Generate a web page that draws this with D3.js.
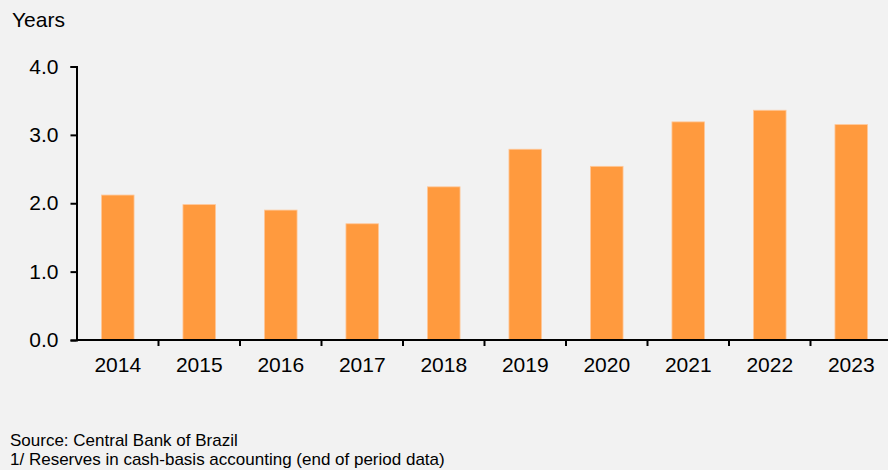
<!DOCTYPE html>
<html>
<head>
<meta charset="utf-8">
<script src="https://cdn.jsdelivr.net/npm/d3@7"></script>
<style>
	body { margin: 0; background: #f2f2f2; }
	svg text { font-family: "Liberation Sans", Arial, sans-serif; fill: #000; }
</style>
</head>
<body>
<div id="chart"></div>
<script>

var years = ["2014", "2015", "2016", "2017", "2018", "2019", "2020", "2021", "2022", "2023"]

var values = [2.12, 1.98, 1.90, 1.70, 2.24, 2.79, 2.54, 3.19, 3.36, 3.15]

var yTicks = [0, 1, 2, 3, 4]

var width = 888, height = 470

var svg = d3.select("#chart").append("svg")
	.attr("width", width)
	.attr("height", height)

svg.append("rect")
	.attr("width", width)
	.attr("height", height)
	.attr("fill", "#f2f2f2")

var x = d3.scaleBand()
	.domain(years)
	.range([77, 892])
	.padding(0)

var y = d3.scaleLinear()
	.domain([0, 4])
	.range([340, 66.5])

var barWidth = x.bandwidth() * 0.4

// bars
svg.append("g").selectAll("rect")
	.data(values)
	.enter()
	.append("rect")
	.attr("x", (d, i) => x(years[i]) + (x.bandwidth() - barWidth) / 2)
	.attr("y", d => y(d))
	.attr("width", barWidth)
	.attr("height", d => y(0) - y(d))
	.attr("fill", "#ff9a3e")
	.attr("stroke", "#ffc89a")
	.attr("stroke-width", 0.8)

// y axis
var yAxis = svg.append("g")
	.attr("transform", "translate(76.5,0)")
	.call(d3.axisLeft(y).tickValues(yTicks).tickFormat(d3.format(".1f")).tickSize(6).tickPadding(12))

yAxis.select(".domain").attr("stroke", "#000").attr("stroke-width", 2)
yAxis.selectAll(".tick line").attr("stroke", "#000").attr("stroke-width", 2)
yAxis.selectAll("text").attr("font-size", 21).attr("font-family", "Liberation Sans, Arial, sans-serif").attr("fill", "#000")

// x axis
var xAxis = svg.append("g")
	.attr("transform", "translate(0,340)")
	.call(d3.axisBottom(x).tickSize(0).tickPadding(17))

xAxis.select(".domain").remove()
xAxis.selectAll("text").attr("font-size", 21).attr("font-family", "Liberation Sans, Arial, sans-serif").attr("fill", "#000")

svg.append("line")
	.attr("x1", 76).attr("x2", width)
	.attr("y1", 340).attr("y2", 340)
	.attr("stroke", "#000")
	.attr("stroke-width", 2)

// ticks between categories
svg.append("g").selectAll("line")
	.data(years.slice(1))
	.enter()
	.append("line")
	.attr("x1", d => x(d)).attr("x2", d => x(d))
	.attr("y1", 340).attr("y2", 346)
	.attr("stroke", "#000")
	.attr("stroke-width", 2)

// labels
svg.append("text")
	.attr("x", 12)
	.attr("y", 26.5)
	.attr("font-size", 21)
	.text("Years")

svg.append("text")
	.attr("x", 10)
	.attr("y", 446)
	.attr("font-size", 17)
	.text("Source: Central Bank of Brazil")

svg.append("text")
	.attr("x", 10)
	.attr("y", 465)
	.attr("font-size", 17)
	.text("1/ Reserves in cash-basis accounting (end of period data)")

</script>
</body>
</html>
